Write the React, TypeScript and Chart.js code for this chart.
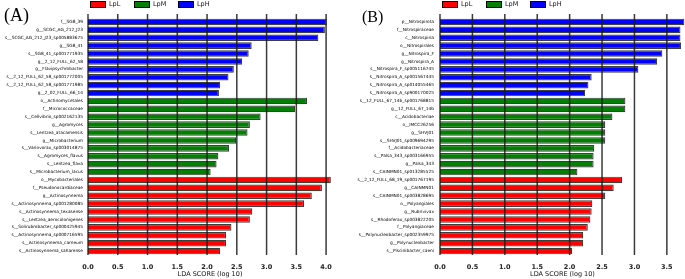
import React, { useEffect, useRef } from 'react';
import { Chart, registerables } from 'chart.js';

Chart.register(...registerables);

const groups = ['LpL', 'LpM', 'LpH'];
const groupColors = ['#ff0000', '#008000', '#0000ff'];

const labelsA = [
  'f__SG8_39', 'g__SCGC_AG_212_J23', 's__SCGC_AG_212_J23_sp005883675', 'g__SG8_41',
  's__SG8_41_sp001771935', 'g__2_12_FULL_62_58', 'g__Flavipsychrobacter',
  's__2_12_FULL_62_58_sp001772005', 's__2_12_FULL_62_58_sp001771985', 'g__2_02_FULL_66_14',
  'o__Actinomycetales', 'f__Micrococcaceae', 's__Cellvibrio_sp002162135', 'g__Agromyces',
  's__Lentzea_atacamensis', 'g__Microbacterium', 's__Variovorax_sp003014875',
  's__Agromyces_flavus', 's__Lentzea_flava', 's__Microbacterium_lacus',
  'o__Mycobacteriales', 'f__Pseudonocardiaceae', 'g__Actinosynnema',
  's__Actinosynnema_sp001280085', 's__Actinosynnema_texasense', 's__Lentzea_aerocolonigenes',
  's__Solirubrobacter_sp000425945', 's__Actinosynnema_sp000716595', 's__Actinosynnema_carneum',
  's__Actinosynnema_saharense',
];
const valuesA = [
  4.01, 3.98, 3.87, 2.75, 2.70, 2.59, 2.45, 2.36, 2.22, 2.20,
  3.68, 3.48, 2.90, 2.72, 2.68, 2.49, 2.37, 2.19, 2.16, 2.06,
  4.08, 3.93, 3.76, 3.63, 2.76, 2.72, 2.41, 2.32, 2.32, 2.22,
];
const groupsA = [
  'LpH', 'LpH', 'LpH', 'LpH', 'LpH', 'LpH', 'LpH', 'LpH', 'LpH', 'LpH',
  'LpM', 'LpM', 'LpM', 'LpM', 'LpM', 'LpM', 'LpM', 'LpM', 'LpM', 'LpM',
  'LpL', 'LpL', 'LpL', 'LpL', 'LpL', 'LpL', 'LpL', 'LpL', 'LpL', 'LpL',
];
const ticksA = [0, 0.5, 1, 1.5, 2, 2.5, 3, 3.5, 4];

const labelsB = [
  'p__Nitrospirota', 'f__Nitrospiraceae', 'c__Nitrospiria', 'o__Nitrospirales',
  'g__Nitrospira_F', 'g__Nitrospira_A', 's__Nitrospira_F_sp005116745',
  's__Nitrospira_A_sp001567445', 's__Nitrospira_A_sp014055465', 's__Nitrospira_A_sp900170025',
  's__12_FULL_67_14b_sp001768815', 'g__12_FULL_67_14b', 'c__Acidobacteriae', 'o__IMCC26256',
  'g__SHVJ01', 's__SHVJ01_sp009694295', 'f__Acidobacteriaceae', 's__Palsa_343_sp003166955',
  'g__Palsa_343', 's__CAINMN01_sp013285525',
  's__2_12_FULL_68_19_sp001767195', 'g__CAINMN01', 's__CAINMN01_sp003828695',
  'o__Polyangiales', 'g__Rubrivivax', 's__Rhodoferax_sp003822205', 'f__Polyangiaceae',
  's__Polynucleobacter_sp002359975', 'g__Polynucleobacter', 's__Piscinibacter_caeni',
];
const valuesB = [
  3.77, 3.71, 3.71, 3.72, 3.43, 3.35, 3.06, 2.34, 2.29, 2.24,
  2.86, 2.86, 2.66, 2.55, 2.55, 2.55, 2.38, 2.37, 2.37, 2.12,
  2.81, 2.68, 2.55, 2.35, 2.34, 2.32, 2.28, 2.21, 2.21, 2.04,
];
const groupsB = [
  'LpH', 'LpH', 'LpH', 'LpH', 'LpH', 'LpH', 'LpH', 'LpH', 'LpH', 'LpH',
  'LpM', 'LpM', 'LpM', 'LpM', 'LpM', 'LpM', 'LpM', 'LpM', 'LpM', 'LpM',
  'LpL', 'LpL', 'LpL', 'LpL', 'LpL', 'LpL', 'LpL', 'LpL', 'LpL', 'LpL',
];
const ticksB = [0, 0.5, 1, 1.5, 2, 2.5, 3, 3.5];

const axisTitle = 'LDA SCORE (log 10)';
const FONT = '"DejaVu Sans", sans-serif';
const GRID = 'rgba(25,25,25,0.85)';

type PanelProps = {
  letter: string;
  labels: string[];
  values: number[];
  grp: string[];
  tickValues: number[];
  xMax: number;
  yWidth: number;
  yPad: number;
  rightPad: number;
  width: number;
  letterX: number;
  letterY: number;
  letterSize: number;
};

function Panel(p: PanelProps) {
  const ref = useRef<HTMLCanvasElement | null>(null);
  useEffect(() => {
    if (!ref.current) return;
    const colors = p.grp.map((g) => groupColors[groups.indexOf(g)]);
    const overlay = {
      id: 'overlay',
      afterDraw(chart: any) {
        const ctx = chart.ctx;
        const xs = chart.scales.x;
        const area = chart.chartArea;
        ctx.save();
        ctx.fillStyle = GRID;
        for (const v of p.tickValues) {
          const x = xs.getPixelForValue(v);
          ctx.fillRect(x - 0.75, area.top - 4, 1.5, area.bottom - area.top + 4);
        }
        ctx.font = `6.5px ${FONT}`;
        ctx.textBaseline = 'middle';
        ctx.textAlign = 'left';
        groups.forEach((g, i) => {
          const x = Math.round(area.left + 2 + i * 44);
          ctx.fillStyle = '#000';
          ctx.fillRect(x, 1, 16, 7);
          ctx.fillStyle = groupColors[i];
          ctx.fillRect(x + 1, 2, 14, 5);
          ctx.fillStyle = '#111';
          ctx.fillText(g, x + 19, 4.5);
        });
        ctx.font = `${p.letterSize}px "Liberation Serif", serif`;
        ctx.fillStyle = '#000';
        ctx.textBaseline = 'alphabetic';
        ctx.fillText(p.letter, p.letterX, p.letterY);
        ctx.restore();
      },
    };
    const chart = new Chart(ref.current, {
      type: 'bar',
      data: {
        labels: p.labels,
        datasets: [
          {
            data: p.values,
            backgroundColor: colors,
            borderColor: 'rgba(40,40,40,0.9)',
            borderWidth: 1.2,
            barPercentage: 0.84,
            categoryPercentage: 1,
          },
        ],
      },
      options: {
        indexAxis: 'y',
        responsive: false,
        animation: false,
        devicePixelRatio: 1,
        layout: { padding: { top: 18, right: p.rightPad, bottom: 0, left: 0 } },
        plugins: { legend: { display: false }, tooltip: { enabled: false } },
        scales: {
          x: {
            type: 'linear',
            min: 0,
            max: p.xMax,
            grid: { display: false, drawTicks: false },
            border: { display: false },
            afterBuildTicks: (scale: any) => {
              scale.ticks = p.tickValues.map((v) => ({ value: v }));
            },
            afterFit: (scale: any) => {
              scale.height = 24;
            },
            ticks: {
              padding: 8,
              color: '#222',
              font: { family: FONT, size: 6.5, weight: 'bold' },
              callback: (v: any) => Number(v).toFixed(1),
            },
            title: {
              display: true,
              text: axisTitle,
              color: '#111',
              font: { family: FONT, size: 6.5 },
              padding: { top: 1, bottom: 1 },
            },
          },
          y: {
            grid: { display: false, drawTicks: false },
            border: { display: false },
            afterFit: (scale: any) => {
              scale.width = p.yWidth;
            },
            ticks: {
              autoSkip: false,
              padding: p.yPad,
              color: '#000',
              font: { family: FONT, size: 4.3 },
            },
          },
        },
      },
      plugins: [overlay],
    } as any);
    return () => chart.destroy();
  }, []);
  return <canvas ref={ref} width={p.width} height={279} style={{ display: 'block', width: p.width, height: 279 }} />;
}

export default function App() {
  useEffect(() => {
    document.body.style.margin = '0';
    document.body.style.background = '#fff';
  }, []);
  return (
    <div style={{ display: 'flex', width: 685, height: 279, background: '#fff', overflow: 'hidden' }}>
      <Panel
        letter="(A)"
        labels={labelsA}
        values={valuesA}
        grp={groupsA}
        tickValues={ticksA}
        xMax={4.1}
        yWidth={88}
        yPad={5}
        rightPad={6}
        width={340}
        letterX={4}
        letterY={21}
        letterSize={18}
      />
      <Panel
        letter="(B)"
        labels={labelsB}
        values={valuesB}
        grp={groupsB}
        tickValues={ticksB}
        xMax={3.78}
        yWidth={100}
        yPad={6}
        rightPad={0}
        width={345}
        letterX={22}
        letterY={22}
        letterSize={16}
      />
    </div>
  );
}
